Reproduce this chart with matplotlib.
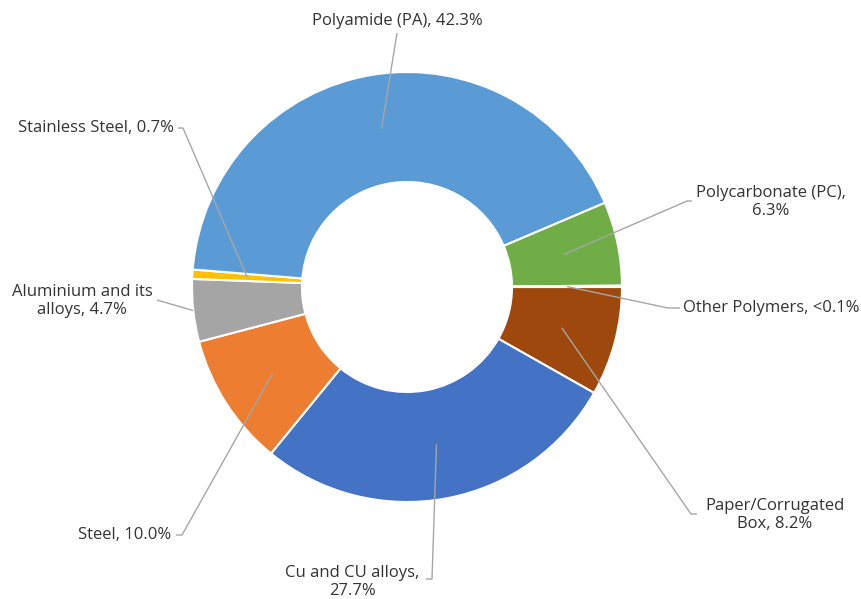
import numpy as np
import matplotlib.pyplot as plt

# material shares (%), clockwise from 3 o'clock
materials = ["Paper/Corrugated\nBox", "Cu and CU alloys,\n", "Steel", "Aluminium and its\nalloys",
             "Stainless Steel", "Polyamide (PA)", "Polycarbonate (PC),\n", "Other Polymers"]
shares = [8.2, 27.7, 10.0, 4.7, 0.7, 42.3, 6.3, 0.1]
share_text = ["8.2%", "27.7%", "10.0%", "4.7%", "0.7%", "42.3%", "6.3%", "<0.1%"]
colors = ["#9E480E", "#4472C4", "#ED7D31", "#A5A5A5", "#FFC000", "#5B9BD5", "#70AD47", "#264478"]

W, H = 861, 599
fig = plt.figure(figsize=(W / 100, H / 100), dpi=100)
ax = fig.add_axes([0, 0, 1, 1])
ax.set_xlim(0, W)
ax.set_ylim(0, H)
ax.set_aspect("equal")
ax.axis("off")

cx, cy = 407, H - 287
r_out, r_in = 215, 105
wedges, _ = ax.pie(shares, colors=colors, startangle=0, counterclock=False,
                   center=(cx, cy), radius=r_out, frame=False,
                   wedgeprops=dict(width=r_out - r_in, edgecolor="white", linewidth=1.5))
ax.set_xlim(0, W)
ax.set_ylim(0, H)

# label placement (image pixel coords): text pos, alignment, leader knee, leader end
layout = [
    ((775, 515), "center", [(697, 514), (691, 514)]),
    ((352, 582), "center", [(426, 579), (432, 579)]),
    ((171, 535), "right", [(176, 535), (182, 535)]),
    ((82, 301), "center", [(157, 300)]),
    ((174, 128), "right", [(178, 128), (183, 128)]),
    ((397, 21), "center", [(397, 33)]),
    ((771, 202), "center", [(692, 201), (687, 201)]),
    ((683, 308), "left", [(680, 308), (668, 308)]),
]

txt_color = "#333333"
line_color = "#A6A6A6"
for i, w in enumerate(wedges):
    (tx, ty), ha, knees = layout[i]
    mid = np.deg2rad((w.theta1 + w.theta2) / 2)
    rr = r_out if i == 3 else (r_out + r_in) / 2
    px, py = cx + rr * np.cos(mid), cy + rr * np.sin(mid)
    pts = [(x, H - y) for x, y in knees] + [(px, py)]
    xs, ys = zip(*pts)
    ax.plot(xs, ys, color=line_color, lw=1, solid_capstyle="butt", zorder=3)
    name = materials[i]
    if name.endswith("\n"):
        label = name + share_text[i]
    else:
        label = name + ", " + share_text[i]
    ax.text(tx, H - ty, label, ha=ha, va="center", ma="center", fontsize=12,
            family=["Open Sans", "DejaVu Sans"], color=txt_color, linespacing=1.2)

fig.savefig("out.png", dpi=100, facecolor="white")
